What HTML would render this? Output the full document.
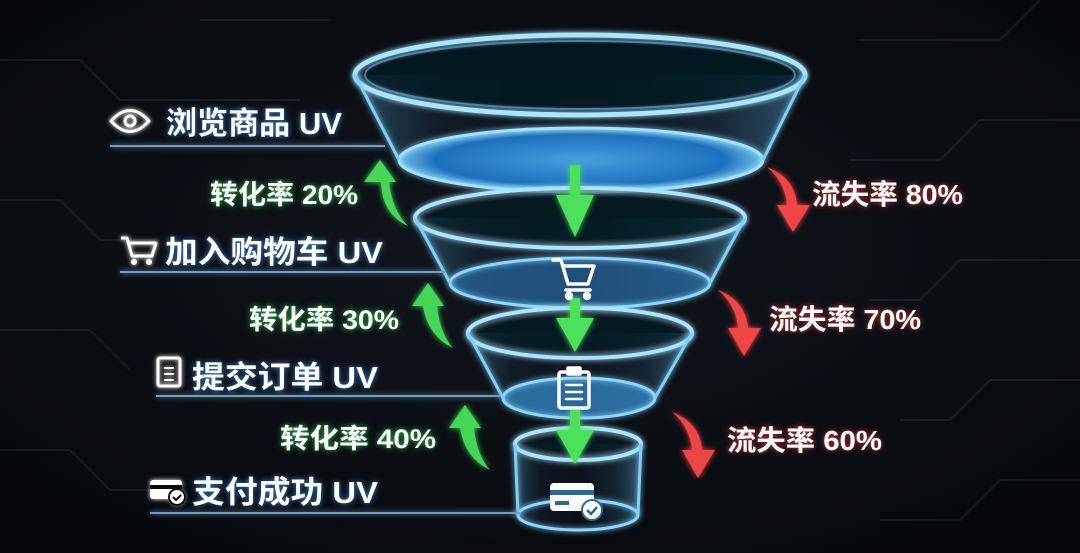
<!DOCTYPE html>
<html><head><meta charset="utf-8"><style>
html,body{margin:0;padding:0;background:#07090c;}
svg{display:block}
text{font-family:"Liberation Sans","Noto Sans CJK SC",sans-serif;font-weight:bold}
</style></head><body>
<svg width="1080" height="553" viewBox="0 0 1080 553" xmlns="http://www.w3.org/2000/svg">
<defs>
<radialGradient id="bg" cx="0.5" cy="0.45" r="0.7">
<stop offset="0" stop-color="#10161d"/><stop offset="1" stop-color="#05070a"/></radialGradient>
<linearGradient id="glass" x1="0" y1="0" x2="1" y2="0">
<stop offset="0" stop-color="#5fb8e8" stop-opacity="0.35"/>
<stop offset="0.2" stop-color="#1a3a55" stop-opacity="0.25"/>
<stop offset="0.5" stop-color="#0e2236" stop-opacity="0.2"/>
<stop offset="0.8" stop-color="#2a5a7a" stop-opacity="0.3"/>
<stop offset="1" stop-color="#6cc4f0" stop-opacity="0.4"/></linearGradient>
<radialGradient id="water" cx="0.5" cy="0.5" r="0.5">
<stop offset="0" stop-color="#4fb8ff"/><stop offset="0.8" stop-color="#1f7fd6"/><stop offset="1" stop-color="#7fd4ff"/></radialGradient>
<filter id="glow" x="-20%" y="-50%" width="140%" height="200%"><feGaussianBlur stdDeviation="3" result="b"/><feMerge><feMergeNode in="b"/><feMergeNode in="SourceGraphic"/></feMerge></filter>
<filter id="tglow" x="-10%" y="-30%" width="120%" height="160%"><feGaussianBlur stdDeviation="2.5" result="b"/><feMerge><feMergeNode in="b"/><feMergeNode in="SourceGraphic"/></feMerge></filter>
<filter id="gg" x="-10%" y="-40%" width="120%" height="180%"><feDropShadow dx="0" dy="0" stdDeviation="3" flood-color="#2fd04a" flood-opacity="0.9"/></filter>
<filter id="rg" x="-10%" y="-40%" width="120%" height="180%"><feDropShadow dx="0" dy="0" stdDeviation="3" flood-color="#e03030" flood-opacity="0.9"/></filter>
<filter id="bgl" x="-10%" y="-40%" width="120%" height="180%"><feDropShadow dx="0" dy="0" stdDeviation="3" flood-color="#3aa0ff" flood-opacity="0.8"/></filter>
</defs>
<rect width="1080" height="553" fill="url(#bg)"/>
<g stroke="#1a2128" stroke-width="2" fill="none" opacity="0.8">
<path d="M0 60 L80 60 L120 100 L300 100"/><path d="M0 200 L60 200 L100 240 L160 240"/>
<path d="M0 330 L90 330 L130 370"/><path d="M0 450 L70 450 L110 490 L150 490"/>
<path d="M1080 120 L980 120 L940 160 L850 160"/><path d="M1080 260 L960 260 L920 300 L870 300"/>
<path d="M1080 380 L990 380 L950 420 L900 420"/><path d="M1080 480 L1000 480 L960 520 L880 520"/>
<path d="M860 40 L1000 40 L1040 0"/><path d="M200 20 L330 20"/>
</g>
<!-- bowl 1 -->
<path d="M355 75 L399 160 A182 32 0 0 0 763 160 L805 75 Z" fill="url(#glass)"/>
<ellipse cx="581" cy="160" rx="182" ry="32" fill="url(#water)" opacity="0.85"/>
<ellipse cx="581" cy="160" rx="182" ry="32" fill="none" stroke="#9ee3ff" stroke-width="3" filter="url(#glow)"/>
<ellipse cx="580" cy="75" rx="225" ry="40" fill="#0c1a26" fill-opacity="0.5" stroke="#a8e6ff" stroke-width="5" filter="url(#glow)"/>
<ellipse cx="580" cy="75" rx="215" ry="34" fill="none" stroke="#5fb8e8" stroke-width="2" opacity="0.6"/>
<path d="M355 75 L399 160 M805 75 L763 160" stroke="#7fd0f5" stroke-width="3" filter="url(#glow)"/>
<!-- bowl 2 -->
<path d="M415 218 L450 283 A130 25 0 0 0 710 283 L745 218 Z" fill="url(#glass)"/>
<ellipse cx="580" cy="283" rx="130" ry="25" fill="#2f7fc4" opacity="0.55"/>
<ellipse cx="580" cy="283" rx="130" ry="25" fill="none" stroke="#8ad8ff" stroke-width="3" filter="url(#glow)"/>
<ellipse cx="580" cy="218" rx="165" ry="30" fill="#0c1a26" fill-opacity="0.4" stroke="#a8e6ff" stroke-width="4" filter="url(#glow)"/>
<path d="M415 218 L450 283 M745 218 L710 283" stroke="#7fd0f5" stroke-width="3" filter="url(#glow)"/>
<!-- bowl 3 -->
<path d="M468 333 L503 398 A76 20 0 0 0 655 398 L692 333 Z" fill="url(#glass)"/>
<ellipse cx="579" cy="398" rx="76" ry="20" fill="#3b9ae0" opacity="0.65"/>
<ellipse cx="579" cy="398" rx="76" ry="20" fill="none" stroke="#8ad8ff" stroke-width="3" filter="url(#glow)"/>
<ellipse cx="580" cy="333" rx="112" ry="25" fill="#0c1a26" fill-opacity="0.4" stroke="#a8e6ff" stroke-width="4" filter="url(#glow)"/>
<path d="M468 333 L503 398 M692 333 L655 398" stroke="#7fd0f5" stroke-width="3" filter="url(#glow)"/>
<!-- cylinder -->
<path d="M515 444 L518 515 A60 15 0 0 0 638 515 L641 444 Z" fill="url(#glass)"/>
<ellipse cx="578" cy="515" rx="60" ry="15" fill="none" stroke="#8ad8ff" stroke-width="3" filter="url(#glow)"/>
<ellipse cx="578" cy="444" rx="63" ry="16" fill="#0c1a26" fill-opacity="0.4" stroke="#a8e6ff" stroke-width="4" filter="url(#glow)"/>
<path d="M515 444 L518 515 M641 444 L638 515" stroke="#7fd0f5" stroke-width="3" filter="url(#glow)"/>
<!-- green down arrows -->
<g fill="#4de05a" filter="url(#glow)">
<path d="M570 165 h10 v30 h14 l-19 42 l-19 -42 h14 z"/>
<path d="M570 298 h10 v20 h14 l-19 34 l-19 -34 h14 z"/>
<path d="M570 410 h10 v20 h14 l-19 34 l-19 -34 h14 z"/>
</g>
<!-- center icons -->
<g stroke="#fff" stroke-width="3.5" fill="none" stroke-linejoin="round" stroke-linecap="round">
<path d="M553 260 h8 l7 24 h20 l6 -18 h-30"/><path d="M566 290 h24"/>
<circle cx="569" cy="296" r="2.5" fill="#fff"/><circle cx="587" cy="296" r="2.5" fill="#fff"/>
<rect x="559" y="372" width="30" height="36" rx="2"/><rect x="568" y="368" width="12" height="6" fill="#fff"/>
<path d="M566 385 h16 M566 392 h16 M566 399 h16" stroke-width="2.5"/>
</g>
<g>
<rect x="550" y="483" width="44" height="28" rx="4" fill="#fff"/>
<rect x="550" y="490" width="44" height="5" fill="#2a6a9a"/>
<rect x="555" y="501" width="14" height="4" fill="#2a6a9a"/>
<circle cx="592" cy="510" r="10" fill="#fff" stroke="#2a6a9a" stroke-width="2"/>
<path d="M587 510 l4 4 l6 -7" stroke="#2a6a9a" stroke-width="2.5" fill="none"/>
</g>
<!-- left lines -->
<g stroke="#6f9fc4" stroke-width="2" filter="url(#glow)">
<line x1="110" y1="146" x2="385" y2="146"/>
<line x1="120" y1="272" x2="445" y2="272"/>
<line x1="156" y1="396" x2="500" y2="396"/>
<line x1="150" y1="513" x2="520" y2="513"/>
</g>
<!-- left icons -->
<g stroke="#fff" stroke-width="3" fill="none" filter="url(#tglow)" stroke-linejoin="round">
<path d="M111 121 Q130 100 149 121 Q130 142 111 121 Z"/><circle cx="130" cy="121" r="5"/>
<path d="M121 238 h6 l5 18 h20 l4 -13 h-26"/><circle cx="134" cy="262" r="1.5"/><circle cx="149" cy="262" r="1.5"/>
<rect x="158" y="358" width="22" height="28" rx="2"/><path d="M164 368 h10 M164 374 h10 M164 380 h10" stroke-width="2"/>
</g>
<g filter="url(#tglow)"><rect x="150" y="480" width="32" height="19" rx="3" fill="#fff"/><rect x="150" y="485" width="32" height="4" fill="#07090c"/><circle cx="177" cy="497" r="8" fill="#fff" stroke="#07090c" stroke-width="2"/><path d="M173 497 l3 3 l5 -5" stroke="#07090c" stroke-width="2" fill="none"/></g>
<!-- left labels -->
<g fill="#fff" font-size="31" filter="url(#bgl)">
<text x="166" y="134" textLength="176" lengthAdjust="spacingAndGlyphs">浏览商品 UV</text>
<text x="165" y="263" textLength="218" lengthAdjust="spacingAndGlyphs">加入购物车 UV</text>
<text x="192" y="388" textLength="186" lengthAdjust="spacingAndGlyphs">提交订单 UV</text>
<text x="192" y="503" textLength="186" lengthAdjust="spacingAndGlyphs">支付成功 UV</text>
</g>
<g fill="#fff" font-size="27" filter="url(#gg)">
<text x="210" y="204" textLength="148" lengthAdjust="spacingAndGlyphs">转化率 20%</text>
<text x="249" y="329" textLength="150" lengthAdjust="spacingAndGlyphs">转化率 30%</text>
<text x="280" y="448" textLength="156" lengthAdjust="spacingAndGlyphs">转化率 40%</text>
</g>
<!-- green up arrows -->
<g fill="#45d658" filter="url(#glow)">
<path d="M380 160 L396 182 L389 182 Q392 210 408 226 Q382 214 381 182 L364 182 Z"/>
<path d="M428 283 L444 306 L437 306 Q440 334 453 348 Q428 336 423 306 L412 306 Z"/>
<path d="M465 405 L481 428 L474 428 Q477 456 490 470 Q465 458 460 428 L449 428 Z"/>
</g>
<!-- red down arrows -->
<g fill="#f04545" filter="url(#glow)">
<path d="M767 167 Q795 178 797 205 L810 205 L793 232 L777 205 L787 205 Q785 182 767 167 Z"/>
<path d="M718 290 Q746 301 748 328 L761 328 L744 356 L728 328 L738 328 Q736 305 718 290 Z"/>
<path d="M672 412 Q700 423 702 450 L715 450 L698 478 L682 450 L692 450 Q690 427 672 412 Z"/>
</g>
<g fill="#fff" font-size="28" filter="url(#rg)">
<text x="812" y="204" textLength="151" lengthAdjust="spacingAndGlyphs">流失率 80%</text>
<text x="769" y="329" textLength="152" lengthAdjust="spacingAndGlyphs">流失率 70%</text>
<text x="727" y="450" textLength="155" lengthAdjust="spacingAndGlyphs">流失率 60%</text>
</g>
</svg>
</body></html>
